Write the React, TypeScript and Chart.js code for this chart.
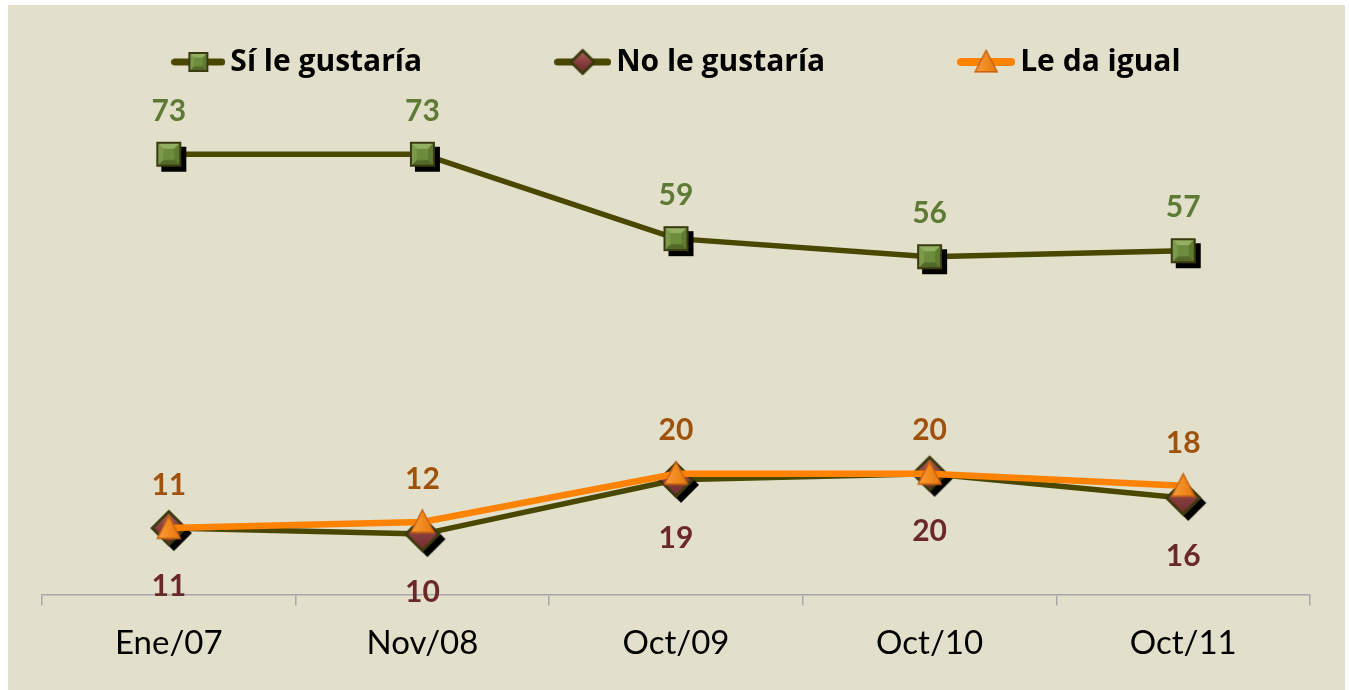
import React, { useEffect, useRef } from "react";
import { Chart, registerables } from "chart.js";

Chart.register(...registerables);

const categories = ["Ene/07", "Nov/08", "Oct/09", "Oct/10", "Oct/11"];
const siLeGustaria = [73, 73, 59, 56, 57];
const noLeGustaria = [11, 10, 19, 20, 16];
const leDaIgual = [11, 12, 20, 20, 18];
const seriesNames = ["Sí le gustaría", "No le gustaría", "Le da igual"];

const OLIVE = "#4A4800";
const ORANGE = "#FF8200";

type Kind = "square" | "diamond" | "triangle";

function shapePath(ctx: CanvasRenderingContext2D, kind: Kind, cx: number, cy: number, h: number) {
  ctx.beginPath();
  if (kind === "square") {
    ctx.rect(cx - h, cy - h, 2 * h, 2 * h);
  } else if (kind === "diamond") {
    ctx.moveTo(cx, cy - h);
    ctx.lineTo(cx + h, cy);
    ctx.lineTo(cx, cy + h);
    ctx.lineTo(cx - h, cy);
    ctx.closePath();
  } else {
    ctx.moveTo(cx, cy - h);
    ctx.lineTo(cx + h * 0.95, cy + h * 0.85);
    ctx.lineTo(cx - h * 0.95, cy + h * 0.85);
    ctx.closePath();
  }
}

function makeMarker(kind: Kind, h: number, shadow: number): HTMLCanvasElement {
  const pad = shadow + 3;
  const size = Math.ceil(2 * (h + pad));
  const c = document.createElement("canvas");
  c.width = size;
  c.height = size;
  const ctx = c.getContext("2d")!;
  const cx = size / 2;
  const cy = size / 2;
  if (shadow > 0) {
    ctx.fillStyle = "#000000";
    shapePath(ctx, kind, cx + shadow, cy + shadow, h);
    ctx.fill();
  }
  if (kind === "square") {
    const tl = [cx - h, cy - h], tr = [cx + h, cy - h], br = [cx + h, cy + h], bl = [cx - h, cy + h];
    const faces: [number[], number[], string][] = [
      [tl, tr, "#93B060"],
      [tr, br, "#5F7B31"],
      [br, bl, "#52692A"],
      [bl, tl, "#7C9A4A"],
    ];
    ctx.fillStyle = "#6E8C3E";
    shapePath(ctx, kind, cx, cy, h);
    ctx.fill();
    const ih = h * 0.45;
    for (const [a, b, col] of faces) {
      ctx.beginPath();
      ctx.moveTo(a[0], a[1]);
      ctx.lineTo(b[0], b[1]);
      ctx.lineTo(cx + (b[0] - cx) * (ih / h), cy + (b[1] - cy) * (ih / h));
      ctx.lineTo(cx + (a[0] - cx) * (ih / h), cy + (a[1] - cy) * (ih / h));
      ctx.closePath();
      ctx.fillStyle = col;
      ctx.fill();
    }
    ctx.lineWidth = 2;
    ctx.strokeStyle = "#3A3A12";
    shapePath(ctx, kind, cx, cy, h - 1);
    ctx.stroke();
  } else if (kind === "diamond") {
    const g = ctx.createLinearGradient(cx, cy - h, cx, cy + h);
    g.addColorStop(0, "#B06868");
    g.addColorStop(0.5, "#8A3E3E");
    g.addColorStop(1, "#6A2A2A");
    ctx.fillStyle = g;
    shapePath(ctx, kind, cx, cy, h);
    ctx.fill();
    ctx.lineWidth = 3;
    ctx.strokeStyle = "#3E3A10";
    shapePath(ctx, kind, cx, cy, h - 1.5);
    ctx.stroke();
  } else {
    const g = ctx.createLinearGradient(cx - h, cy, cx + h, cy);
    g.addColorStop(0, "#F7A040");
    g.addColorStop(0.5, "#F28A20");
    g.addColorStop(1, "#E07810");
    ctx.fillStyle = g;
    shapePath(ctx, kind, cx, cy, h);
    ctx.fill();
    ctx.lineWidth = 1.5;
    ctx.strokeStyle = "#C86410";
    shapePath(ctx, kind, cx, cy, h - 0.5);
    ctx.stroke();
  }
  return c;
}

function makeLegendSymbol(lineColor: string, lineWidth: number, marker: HTMLCanvasElement, width: number): HTMLCanvasElement {
  const c = document.createElement("canvas");
  c.width = width;
  c.height = Math.max(marker.height, 30);
  const ctx = c.getContext("2d")!;
  const cy = c.height / 2;
  ctx.strokeStyle = lineColor;
  ctx.lineWidth = lineWidth;
  ctx.lineCap = "round";
  ctx.beginPath();
  ctx.moveTo(lineWidth / 2, cy);
  ctx.lineTo(width - lineWidth / 2, cy);
  ctx.stroke();
  ctx.drawImage(marker, (width - marker.width) / 2, cy - marker.height / 2);
  return c;
}

export default function App() {
  const canvasRef = useRef<HTMLCanvasElement | null>(null);

  useEffect(() => {
    if (!canvasRef.current) return;

    const sq = makeMarker("square", 12.5, 5);
    const di = makeMarker("diamond", 18, 5);
    const tr = makeMarker("triangle", 12.5, 0);

    const legendSymbols = [
      makeLegendSymbol(OLIVE, 7, makeMarker("square", 10, 0), 54),
      makeLegendSymbol(OLIVE, 7, makeMarker("diamond", 13, 0), 57),
      makeLegendSymbol(ORANGE, 8, makeMarker("triangle", 12, 0), 58),
    ];

    const labelColors = ["#5E7A34", "#6B2828", "#A0520C"];
    const labelOffsets = [-43, 58, -43];

    const dataLabelPlugin = {
      id: "dataLabels",
      afterDatasetsDraw(chart: any) {
        const ctx = chart.ctx;
        ctx.save();
        ctx.font = "bold 30px Lato";
        ctx.textAlign = "center";
        ctx.textBaseline = "middle";
        chart.data.datasets.forEach((ds: any, i: number) => {
          const meta = chart.getDatasetMeta(i);
          meta.data.forEach((pt: any, j: number) => {
            ctx.fillStyle = labelColors[i];
            ctx.fillText(String(ds.data[j]), pt.x, pt.y + labelOffsets[i]);
          });
        });
        ctx.restore();
      },
    };

    const customLegend = {
      id: "customLegend",
      afterDraw(chart: any) {
        const ctx = chart.ctx;
        const area = chart.chartArea;
        ctx.save();
        ctx.font = "bold 30px 'Open Sans'";
        ctx.textBaseline = "middle";
        ctx.textAlign = "left";
        const gapText = 5;
        const gapItems = 132;
        const widths = seriesNames.map((n, i) => legendSymbols[i].width + gapText + ctx.measureText(n).width);
        const total = widths.reduce((a, b) => a + b, 0) + gapItems * (seriesNames.length - 1);
        let x = (area.left + area.right) / 2 - total / 2;
        const cy = 57;
        seriesNames.forEach((n, i) => {
          const s = legendSymbols[i];
          ctx.drawImage(s, x, cy - s.height / 2);
          ctx.fillStyle = "#000000";
          ctx.fillText(n, x + s.width + gapText, cy);
          x += widths[i] + gapItems;
        });
        ctx.restore();
      },
    };

    const chart = new Chart(canvasRef.current, {
      type: "line",
      data: {
        labels: categories,
        datasets: [
          {
            label: seriesNames[0],
            data: siLeGustaria,
            borderColor: OLIVE,
            borderWidth: 5.5,
            pointStyle: sq as any,
            pointRadius: 12,
            order: 0,
            tension: 0,
          },
          {
            label: seriesNames[1],
            data: noLeGustaria,
            borderColor: OLIVE,
            borderWidth: 5.5,
            pointStyle: di as any,
            pointRadius: 12,
            order: 2,
            tension: 0,
          },
          {
            label: seriesNames[2],
            data: leDaIgual,
            borderColor: ORANGE,
            borderWidth: 6.5,
            pointStyle: tr as any,
            pointRadius: 12,
            order: 1,
            tension: 0,
          },
        ],
      },
      options: {
        responsive: true,
        maintainAspectRatio: false,
        animation: false,
        layout: { padding: { left: 34, right: 35, top: 107, bottom: 9 } },
        plugins: {
          legend: { display: false },
          tooltip: { enabled: false },
        },
        scales: {
          x: {
            offset: true,
            grid: {
              display: true,
              offset: true,
              drawOnChartArea: false,
              drawTicks: true,
              tickLength: 11,
              color: "#A8A8A8",
              lineWidth: 1.5,
            },
            border: { display: true, color: "#A8A8A8", width: 1.5 },
            ticks: {
              color: "#000000",
              font: { family: "Lato", size: 33 },
              padding: 18,
            },
          },
          y: {
            display: false,
            min: 0,
            max: 80,
          },
        },
      },
      plugins: [dataLabelPlugin, customLegend],
    });

    return () => chart.destroy();
  }, []);

  return (
    <div
      style={{
        position: "fixed",
        left: 8,
        top: 5,
        width: 1337,
        height: 685,
        background: "#E2DFCB",
      }}
    >
      <canvas ref={canvasRef} />
    </div>
  );
}
